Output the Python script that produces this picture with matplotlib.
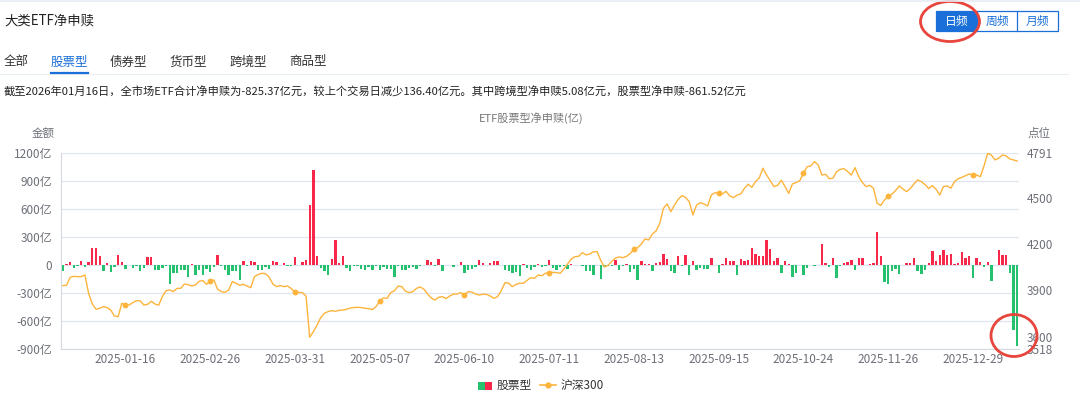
import numpy as np
import pandas as pd
import matplotlib
matplotlib.use('Agg')
import matplotlib.pyplot as plt
from matplotlib.patches import Rectangle, Ellipse
from matplotlib.lines import Line2D

plt.rcParams['font.family'] = ['Noto Sans CJK SC', 'DejaVu Sans']

# exchange holidays falling on weekdays
holidays = ['2025-01-01', '2025-01-28', '2025-01-29', '2025-01-30', '2025-01-31',
            '2025-02-03', '2025-02-04', '2025-04-04', '2025-05-01', '2025-05-02',
            '2025-05-05', '2025-06-02', '2025-10-01', '2025-10-02', '2025-10-03',
            '2025-10-06', '2025-10-07', '2025-10-08', '2026-01-01', '2026-01-02']

tick_labels = ['2025-01-16', '2025-02-26', '2025-03-31', '2025-05-07', '2025-06-10',
               '2025-07-11', '2025-08-13', '2025-09-15', '2025-10-24', '2025-11-26',
               '2025-12-29']

tabs = ['全部', '股票型', '债券型', '货币型', '跨境型', '商品型']
freq_buttons = ['日频', '周频', '月频']

# 股票型ETF净申赎 (亿元), one value per trading day
flow = [
    -57, 10, 38, -28, -8, 42, -20, 35, 182, 185,
    104, -65, 20, -75, -14, 106, 36, -38, 8, -24,
    -8, -62, -25, 88, 92, -48, -45, -24, -3, -200,
    -82, -80, -48, -48, -130, 12, -100, -45, -100, -40,
    -70, -15, 110, -5, -50, -100, -60, -65, -157, 50,
    -5, 45, 35, -55, -50, -18, -35, 48, 32, 3,
    25, -12, -8, 85, 3, 35, 55, 650, 1020, 100,
    -30, -60, -100, 70, 268, 22, 100, -28, -65, -4,
    -8, -35, -55, -15, -45, -5, -55, -15, -35, -35,
    -130, -10, -55, -50, -30, -20, -38, -12, 3, 55,
    35, -12, 70, -65, 8, 2, -22, 2, 32, -80,
    -55, -35, -20, 60, 25, 3, 22, 42, 41, 2,
    -52, -57, -78, -68, -112, 10, -30, -45, -20, 13,
    -17, -3, 53, -28, -45, -15, -3, -35, 10, 6,
    0, -5, -65, -65, -100, 8, -150, -18, -5, -10,
    55, -55, -12, 10, -75, -35, -160, 42, 12, 10,
    -65, 20, 35, 120, 68, -60, -80, 100, -3, 110,
    -105, 50, -45, -30, -35, -35, 78, 2, -82, 18,
    75, 45, 42, -100, 65, 45, 55, 190, 125, 105,
    105, 270, 170, 50, 82, -85, 42, 12, -120, -78,
    0, -105, -28, 0, -8, 8, 230, 25, -20, 82,
    -135, -12, 25, 38, 62, -55, 78, 82, 5, 18,
    28, 355, 100, -180, -204, -57, -40, -90, 3, 28,
    28, 82, -60, -90, -45, 28, 157, 50, 110, 168,
    107, 125, 18, 28, 143, 78, 100, -140, 82, 35,
    -18, 32, -165, 0, 168, 107, 107, -82, -688, -861.52,
]

# 沪深300 close
hs300 = [
    3931, 3934, 3986, 3992, 3990, 3990, 4001, 3880, 3812, 3778,
    3784, 3795, 3789, 3773, 3734, 3730, 3817, 3804, 3806, 3821,
    3834, 3832, 3806, 3810, 3830, 3812, 3804, 3860, 3899, 3903,
    3893, 3914, 3914, 3942, 3938, 3929, 3936, 3960, 3964, 3940,
    3962, 3968, 3908, 3893, 3888, 3903, 3958, 3947, 3934, 3940,
    3929, 3918, 3990, 4003, 4012, 4009, 3986, 3942, 3925, 3932,
    3925, 3929, 3912, 3890, 3888, 3886, 3864, 3596, 3633, 3676,
    3724, 3752, 3763, 3769, 3765, 3771, 3773, 3778, 3786, 3789,
    3791, 3789, 3784, 3782, 3776, 3795, 3830, 3851, 3849, 3886,
    3899, 3929, 3925, 3895, 3886, 3893, 3914, 3923, 3908, 3877,
    3851, 3838, 3856, 3860, 3847, 3864, 3877, 3877, 3886, 3871,
    3893, 3890, 3877, 3871, 3875, 3875, 3864, 3849, 3860, 3899,
    3951, 3947, 3925, 3940, 3947, 3947, 3966, 3983, 3979, 4001,
    3996, 4012, 4016, 4018, 4016, 4012, 4040, 4072, 4105, 4120,
    4122, 4146, 4131, 4137, 4152, 4152, 4094, 4053, 4064, 4090,
    4111, 4118, 4113, 4122, 4141, 4167, 4178, 4202, 4235, 4228,
    4267, 4287, 4336, 4434, 4462, 4412, 4455, 4492, 4516, 4505,
    4477, 4390, 4455, 4470, 4462, 4449, 4520, 4535, 4531, 4527,
    4544, 4514, 4503, 4520, 4527, 4564, 4590, 4570, 4607, 4631,
    4694, 4650, 4613, 4575, 4583, 4616, 4575, 4531, 4592, 4601,
    4613, 4661, 4704, 4709, 4737, 4715, 4650, 4655, 4626, 4629,
    4672, 4687, 4691, 4672, 4650, 4698, 4639, 4601, 4575, 4583,
    4564, 4466, 4453, 4488, 4514, 4525, 4549, 4579, 4559, 4542,
    4562, 4592, 4618, 4607, 4588, 4562, 4581, 4557, 4520, 4575,
    4579, 4564, 4607, 4626, 4635, 4646, 4657, 4648, 4650, 4639,
    4709, 4791, 4780, 4748, 4759, 4780, 4774, 4754, 4748, 4741,
]

trade_days = pd.bdate_range('2024-12-23', '2026-01-16')
trade_days = trade_days[~trade_days.isin(pd.to_datetime(holidays))]
dates = [d.strftime('%Y-%m-%d') for d in trade_days]
n = len(flow)
x = np.arange(n)

W, H = 1080, 394
RED = '#F7284A'
GREEN = '#25C16F'
ORANGE = '#FDB43C'
BLUE = '#1A6FD8'
GRAY = '#6E7079'


def fx(px):
    return px / W


def fy(py):
    return 1 - py / H


fig = plt.figure(figsize=(10.8, 3.94), dpi=100)
fig.patch.set_facecolor('white')

# page header
fig.add_artist(Line2D([0, 1], [fy(0.8), fy(0.8)], color='#E6ECF5', lw=1.2))
fig.text(fx(4), fy(21), '大类ETF净申赎', fontsize=9.6, color='#222222', va='center')

# frequency buttons
bx = [936, 977, 1017]
for i, lab in enumerate(freq_buttons):
    x0 = bx[i]
    w = 41
    filled = i == 0
    fig.add_artist(Rectangle((fx(x0), fy(31)), fx(w), 20 / H, transform=fig.transFigure,
                             facecolor=BLUE if filled else 'white', edgecolor=BLUE, lw=0.9))
    fig.text(fx(x0 + w / 2), fy(21), lab, fontsize=8.5, ha='center', va='center',
             color='white' if filled else BLUE)
fig.add_artist(Ellipse((fx(950), fy(21.5)), fx(59), 40 / H, transform=fig.transFigure,
                       fill=False, edgecolor='#E8453C', lw=2))

# tabs
tab_x = [4, 51, 110, 170, 230, 289]
for lab, tx in zip(tabs, tab_x):
    active = lab == '股票型'
    fig.text(fx(tx), fy(62), lab, fontsize=9, va='center',
             color=BLUE if active else '#333333')
fig.add_artist(Line2D([0, fx(1068)], [fy(74), fy(74)], color='#EBEEF2', lw=0.8))
fig.add_artist(Line2D([fx(51), fx(88)], [fy(73), fy(73)], color=BLUE, lw=1.6))

fig.text(fx(4), fy(92),
         '截至2026年01月16日，全市场ETF合计净申赎为-825.37亿元，较上个交易日减少136.40亿元。'
         '其中跨境型净申赎5.08亿元，股票型净申赎-861.52亿元',
         fontsize=8.1, va='center', color='#222222')

fig.text(fx(531), fy(118), 'ETF股票型净申赎(亿)', fontsize=8, ha='center', va='center', color='#777777')
fig.text(fx(43), fy(133), '金额', fontsize=8.3, ha='center', va='center', color=GRAY)
fig.text(fx(1039), fy(133), '点位', fontsize=8.3, ha='center', va='center', color=GRAY)

# chart
ax = fig.add_axes([fx(61), fy(349.3), fx(958), 196 / H])
colors = [RED if v >= 0 else GREEN for v in flow]
ax.bar(x, flow, width=0.64, color=colors, zorder=2)
ax.set_xlim(-0.5, n - 0.5)
ax.set_ylim(-900, 1200)
yt = list(range(-900, 1201, 300))
ax.set_yticks(yt)
ax.set_yticklabels([f'{v}亿' if v != 0 else '0' for v in yt])
ax.yaxis.grid(True, color='#E0E6F1', lw=0.9, zorder=0)
ax.set_axisbelow(True)
for s in ['top', 'right']:
    ax.spines[s].set_visible(False)
ax.spines['left'].set_color('#D5D9E0')
ax.spines['bottom'].set_color('#D5D9E0')
ax.tick_params(axis='y', length=0, pad=6.5, labelsize=8.5, labelcolor=GRAY)

tick_idx = [dates.index(t) for t in tick_labels]
ax.set_xticks(tick_idx)
ax.set_xticklabels(tick_labels)
ax.tick_params(axis='x', length=0, pad=3, labelsize=8.5, labelcolor=GRAY)

ax2 = ax.twinx()
ax2.plot(x, hs300, color=ORANGE, lw=1.0, marker='o', markersize=3.2,
         markevery=tick_idx, markerfacecolor=ORANGE, markeredgecolor=ORANGE)
ax2.set_ylim(3518, 4791)
ax2.set_yticks([3518, 3600, 3900, 4200, 4500, 4791])
ax2.tick_params(axis='y', length=0, pad=5.5, labelsize=8.5, labelcolor=GRAY)
for s in ['top', 'right', 'left', 'bottom']:
    ax2.spines[s].set_visible(False)

fig.add_artist(Ellipse((fx(1014), fy(335.5)), fx(46), 42 / H, transform=fig.transFigure,
                       fill=False, edgecolor='#E8453C', lw=2))

# legend
fig.add_artist(Rectangle((fx(477.5), fy(389.5)), fx(7), 8 / H, transform=fig.transFigure,
                         facecolor=GREEN, edgecolor='none'))
fig.add_artist(Rectangle((fx(484.5), fy(389.5)), fx(7), 8 / H, transform=fig.transFigure,
                         facecolor=RED, edgecolor='none'))
fig.text(fx(497), fy(385), '股票型', fontsize=8.5, va='center', color='#333333')
fig.add_artist(Line2D([fx(540), fx(556)], [fy(385), fy(385)], color=ORANGE, lw=1.2,
                      transform=fig.transFigure))
fig.add_artist(Line2D([fx(548)], [fy(385)], color=ORANGE, marker='o', markersize=3.5,
                      transform=fig.transFigure))
fig.text(fx(561), fy(385), '沪深300', fontsize=8.5, va='center', color='#333333')

fig.savefig('out.png', dpi=100, facecolor='white')
